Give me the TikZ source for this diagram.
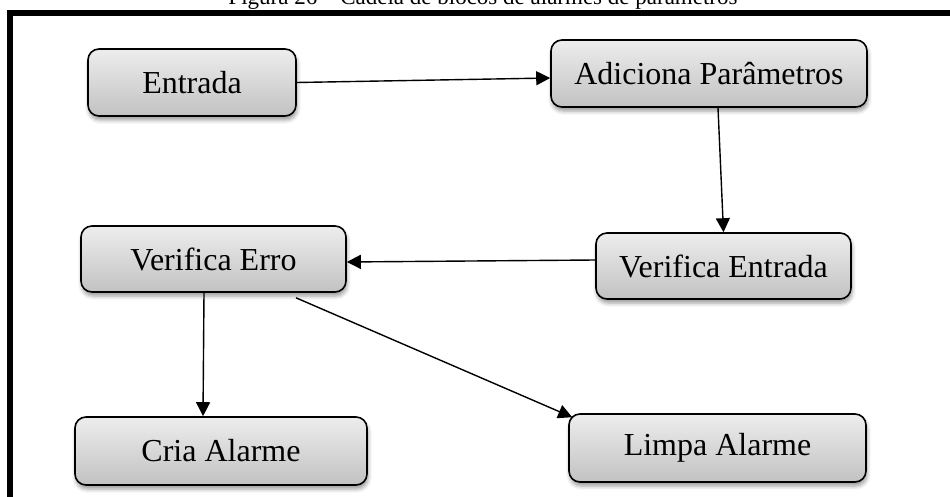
\documentclass[tikz,border=0pt]{standalone}
\usepackage{fontspec}
\setmainfont{Liberation Serif}
\usetikzlibrary{arrows.meta,shadows.blur}

\tikzset{
  block/.style={
    draw=black, line width=1.6pt, rounded corners=11pt,
    top color=white!93!black, bottom color=white!76!black,
    blur shadow={shadow xshift=1pt, shadow yshift=-4pt,
                 shadow blur radius=4pt, shadow opacity=40},
    inner sep=0pt, align=center,
    font=\fontsize{32}{38}\selectfont
  },
  flow/.style={line width=1.4pt, -{Triangle[length=14pt,width=14pt]}},
  frame/.style={draw=black, line width=5.5pt}
}

\begin{document}
\begin{tikzpicture}[x=1pt,y=-1pt]
  \useasboundingbox (0,0) rectangle (950,497);
  \clip (0,0) rectangle (950,497);

  % caption above the frame
  \node[anchor=base, inner sep=0pt, font=\fontsize{23}{28}\selectfont] (caption) at (483,5)
    {Figura 26 -- Cadeia de blocos de alarmes de parâmetros};

  % outer frame (right and bottom edges run past the page)
  \draw[frame] (10,13) rectangle (975,530);

  % blocks
  \node[block, minimum width=208pt, minimum height=67pt] (entrada) at (192,82.5) {Entrada};
  \node[block, minimum width=316pt, minimum height=67pt] (adic) at (709,73.5) {Adiciona Parâmetros};
  \node[block, minimum width=255pt, minimum height=66pt] (verent) at (723.5,266) {Verifica Entrada};
  \node[block, minimum width=265pt, minimum height=66pt] (vererro) at (213.5,259) {Verifica Erro};
  \node[block, minimum width=292pt, minimum height=68pt] (cria) at (221,451) {Cria Alarme};
  \node[block, minimum width=297pt, minimum height=68pt] (limpa) at (717.5,448) {Limpa Alarme};

  % connectors
  \draw[flow] (entrada.east) -- ([yshift=-4.5pt]adic.west);
  \draw[flow] ([xshift=9pt]adic.south) -- (verent.north);
  \draw[flow] ([yshift=6pt]verent.west) -- ([yshift=-3pt]vererro.east);
  \draw[flow] ([xshift=-9.5pt]vererro.south) -- ([xshift=-18pt]cria.north);
  \draw[flow] ([xshift=82.5pt,yshift=-5pt]vererro.south) -- ([xshift=4pt,yshift=-4pt]limpa.north west);
\end{tikzpicture}
\end{document}
